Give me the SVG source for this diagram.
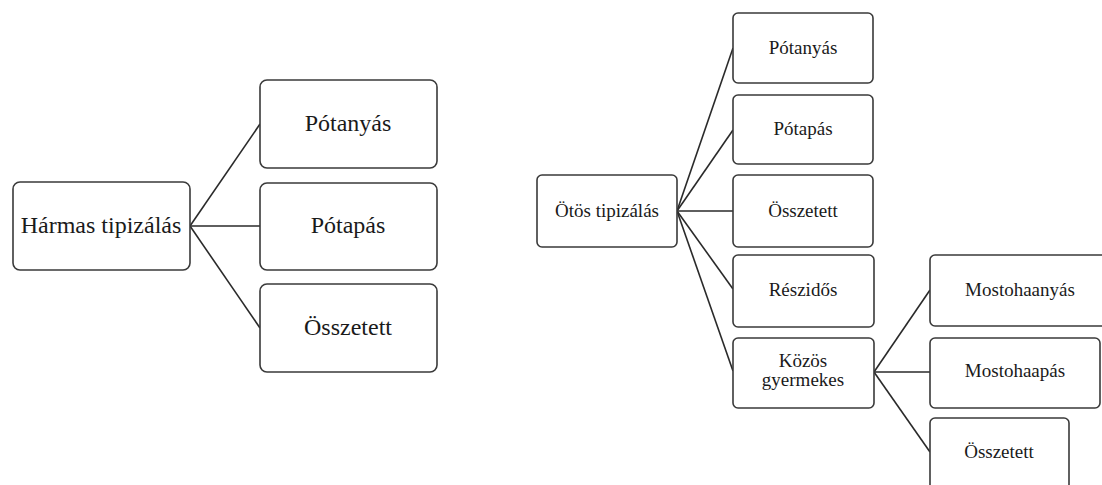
<svg xmlns="http://www.w3.org/2000/svg" width="1102" height="485" viewBox="0 0 1102 485">
<style>
.box{fill:#fff;stroke:#3a3a3a;stroke-width:1.6}
.ln{stroke:#2a2a2a;stroke-width:1.6;fill:none}
text{font-family:'Liberation Serif','DejaVu Serif','Noto Serif',serif;fill:#1a1a1a;text-anchor:middle}
.t1{font-size:24px}
.t2{font-size:19px}
</style>
<rect width="1102" height="485" fill="#fff"/>
<g id="connectors">
<line class="ln" x1="190" y1="226" x2="260" y2="124"/>
<line class="ln" x1="190" y1="226" x2="260" y2="226"/>
<line class="ln" x1="190" y1="226" x2="260" y2="328"/>
<line class="ln" x1="677" y1="211" x2="733" y2="48"/>
<line class="ln" x1="677" y1="211" x2="733" y2="130"/>
<line class="ln" x1="677" y1="211" x2="733" y2="211"/>
<line class="ln" x1="677" y1="211" x2="733" y2="289"/>
<line class="ln" x1="677" y1="211" x2="733" y2="371"/>
<line class="ln" x1="874" y1="372" x2="930" y2="290"/>
<line class="ln" x1="874" y1="372" x2="930" y2="372"/>
<line class="ln" x1="874" y1="372" x2="930" y2="452"/>
</g>
<g id="harmas"><rect class="box" x="13" y="182" width="177" height="88" rx="7"/><text class="t1" x="101" y="233">Hármas tipizálás</text></g>
<g id="l-potanyas"><rect class="box" x="260" y="80" width="177" height="88" rx="7"/><text class="t1" x="348" y="131">Pótanyás</text></g>
<g id="l-potapas"><rect class="box" x="260" y="183" width="177" height="87" rx="7"/><text class="t1" x="348" y="233">Pótapás</text></g>
<g id="l-osszetett"><rect class="box" x="260" y="284" width="177" height="88" rx="7"/><text class="t1" x="348" y="335">Összetett</text></g>
<g id="otos"><rect class="box" x="537" y="175" width="140" height="72" rx="5"/><text class="t2" x="607" y="217">Ötös tipizálás</text></g>
<g id="r-potanyas"><rect class="box" x="733" y="13" width="140" height="70" rx="5"/><text class="t2" x="803" y="54">Pótanyás</text></g>
<g id="r-potapas"><rect class="box" x="733" y="95" width="140" height="69" rx="5"/><text class="t2" x="803" y="135">Pótapás</text></g>
<g id="r-osszetett"><rect class="box" x="733" y="175" width="140" height="72" rx="5"/><text class="t2" x="803" y="217">Összetett</text></g>
<g id="reszidos"><rect class="box" x="733" y="255" width="141" height="72" rx="5"/><text class="t2" x="803" y="296">Részidős</text></g>
<g id="kozos"><rect class="box" x="733" y="338" width="141" height="70" rx="5"/><text class="t2" x="803" y="367">Közös</text><text class="t2" x="803" y="386">gyermekes</text></g>
<g id="mostohaanyas"><rect class="box" x="930" y="255" width="182" height="71" rx="5"/><text class="t2" x="1020" y="296">Mostohaanyás</text></g>
<g id="mostohaapas"><rect class="box" x="930" y="338" width="170" height="70" rx="5"/><text class="t2" x="1015" y="377">Mostohaapás</text></g>
<g id="k-osszetett"><rect class="box" x="930" y="418" width="139" height="80" rx="5"/><text class="t2" x="999" y="458">Összetett</text></g>
</svg>
